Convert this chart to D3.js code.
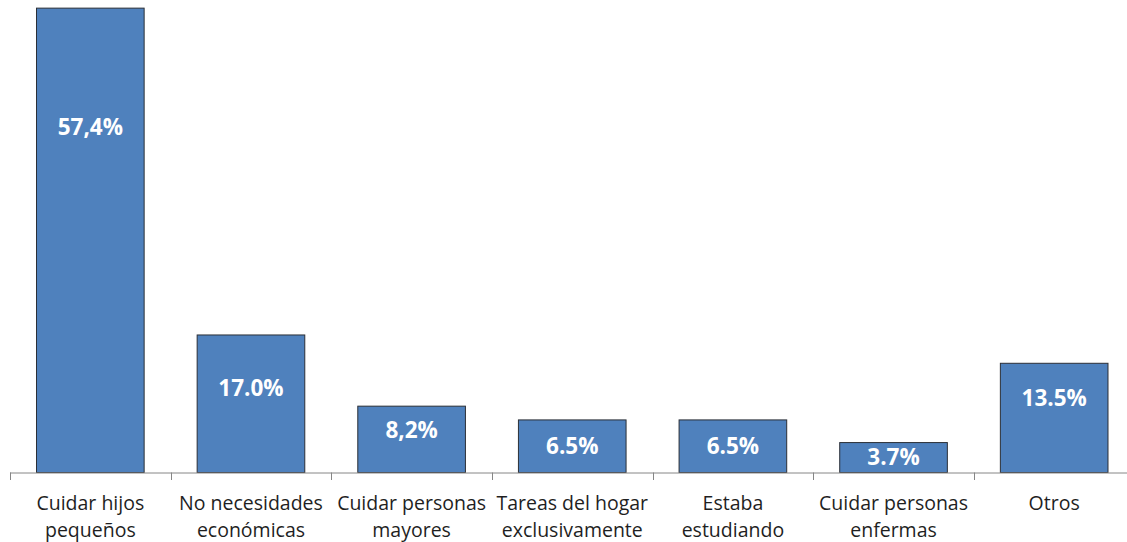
<!DOCTYPE html>
<html>
<head>
<meta charset="utf-8">
<script src="https://cdn.jsdelivr.net/npm/d3@7"></script>
<style>
  html, body { margin: 0; padding: 0; background: #fff; }
  svg { display: block; }
</style>
</head>
<body>
<svg id="chart" width="1127" height="542"></svg>
<script>
// ---- data ----
const categories = [
  ["Cuidar hijos", "pequeños"],
  ["No necesidades", "económicas"],
  ["Cuidar personas", "mayores"],
  ["Tareas del hogar", "exclusivamente"],
  ["Estaba", "estudiando"],
  ["Cuidar personas", "enfermas"],
  ["Otros"]
];
const values = [57.4, 17.0, 8.2, 6.5, 6.5, 3.7, 13.5];
const valueLabels = ["57,4%", "17.0%", "8,2%", "6.5%", "6.5%", "3.7%", "13.5%"];

// ---- layout ----
const W = 1127, H = 542;
const baseline = 472.5;
const pxPerUnit = 8.09;
const labelDrop = [119, 53, 24, 26, 26, 14, 35]; // label centre below bar top (px)

const svg = d3.select("#chart");

const keys = categories.map((c, i) => i);
const x = d3.scaleBand()
  .domain(keys)
  .range([10, 1134.5])
  .paddingInner(0.33)
  .paddingOuter(0.165);

const y = d3.scaleLinear()
  .domain([0, 60])
  .range([baseline, baseline - 60 * pxPerUnit]);

// bars
svg.append("g").selectAll("rect")
  .data(values)
  .join("rect")
  .attr("x", (d, i) => x(i))
  .attr("y", d => y(d))
  .attr("width", x.bandwidth())
  .attr("height", d => y(0) - y(d))
  .attr("fill", "#4f81bd")
  .attr("stroke", "#2b2f36")
  .attr("stroke-width", 1);

// value labels
svg.append("g").selectAll("text")
  .data(values)
  .join("text")
  .attr("x", (d, i) => x(i) + x.bandwidth() / 2)
  .attr("y", (d, i) => y(d) + labelDrop[i])
  .attr("dy", "0.36em")
  .attr("text-anchor", "middle")
  .attr("font-family", "'Open Sans', sans-serif")
  .attr("font-weight", "bold")
  .attr("font-size", "22.5px")
  .attr("fill", "#ffffff")
  .text((d, i) => valueLabels[i]);

// x axis
const step = x.step();
const axis = svg.append("g").attr("class", "axis");
axis.append("line")
  .attr("x1", 10).attr("x2", W + 10)
  .attr("y1", baseline + 0.5).attr("y2", baseline + 0.5)
  .attr("stroke", "#868686").attr("stroke-width", 1);
const boundaries = d3.range(keys.length + 1).map(i => x.range()[0] + i * step);
axis.selectAll("line.tick")
  .data(boundaries)
  .join("line")
  .attr("class", "tick")
  .attr("x1", d => Math.round(d) + 0.5).attr("x2", d => Math.round(d) + 0.5)
  .attr("y1", baseline).attr("y2", baseline + 7.5)
  .attr("stroke", "#868686").attr("stroke-width", 1);

// category labels
const catG = axis.selectAll("text.cat")
  .data(categories)
  .join("text")
  .attr("class", "cat")
  .attr("x", (d, i) => x(i) + x.bandwidth() / 2)
  .attr("y", 510)
  .attr("text-anchor", "middle")
  .attr("font-family", "'Open Sans', sans-serif")
  .attr("font-size", "19.5px")
  .attr("fill", "#1f1f1f");
catG.selectAll("tspan")
  .data(d => d)
  .join("tspan")
  .attr("x", function() { return d3.select(this.parentNode).attr("x"); })
  .attr("dy", (d, j) => j === 0 ? 0 : 26.5)
  .text(d => d);
</script>
</body>
</html>
